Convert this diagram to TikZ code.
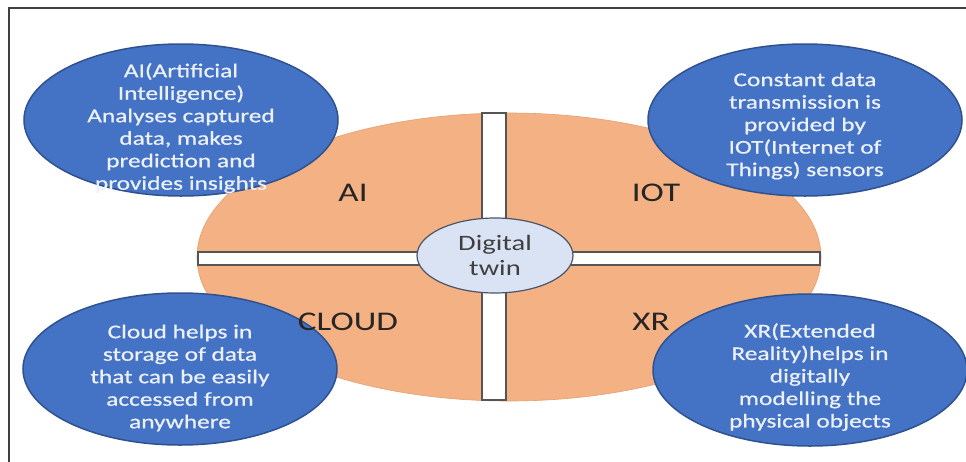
\documentclass[tikz,border=0pt]{standalone}
\usepackage{fontspec}
\setmainfont{Carlito}
\newfontfamily\widefont[FakeStretch=1.3]{Carlito}
\newfontfamily\bubblefont[FakeStretch=1.3,FakeBold=0.6]{Carlito}
\usetikzlibrary{shapes.geometric}

\definecolor{petal}{HTML}{F4B183}
\definecolor{petaledge}{HTML}{E3A06E}
\definecolor{bubble}{HTML}{4472C4}
\definecolor{bubbleedge}{HTML}{2F528F}
\definecolor{hub}{HTML}{DAE3F3}
\definecolor{hubedge}{HTML}{4A5568}
\definecolor{ink}{HTML}{404040}
\definecolor{baredge}{HTML}{555555}

\tikzset{
  frame/.style={draw=ink, line width=1.6pt},
  core/.style={ellipse, fill=petal, draw=petaledge, line width=0.6pt,
    minimum width=624, minimum height=288, inner sep=0pt},
  barbox/.style={rectangle, fill=white, draw=baredge, line width=1.3pt, inner sep=0pt},
  bubblebox/.style={ellipse, fill=bubble, draw=bubbleedge, line width=1.5pt,
    minimum width=314, minimum height=152, inner sep=0pt},
  bubbletext/.style={inner sep=0pt, text=white!90!bubble, align=center,
    font=\bubblefont\fontsize{19.5}{22.5}\selectfont},
  hubbox/.style={ellipse, fill=hub, draw=hubedge, line width=1.2pt,
    minimum width=156, minimum height=75, inner sep=0pt,
    text=ink, align=center, font=\widefont\fontsize{22}{25}\selectfont},
  quadlabel/.style={text=black!85, font=\widefont\fontsize{27}{30}\selectfont, inner sep=0pt}
}

\begin{document}
\begin{tikzpicture}[x=1pt,y=-1pt]
  \useasboundingbox (0,0) rectangle (966,461);
  \clip (0,0) rectangle (966,461);
  \fill[white] (0,0) rectangle (966,461);

  % outer frame
  \draw[frame] (9,8) rectangle (980,480);

  % central disc split into four quadrants
  \node[core] (core) at (509,257) {};
  \node[barbox, minimum width=622, minimum height=13] (hbar) at (509,258.5) {};
  \node[barbox, minimum width=24, minimum height=287] (vbar) at (494,256.5) {};

  % hub
  \node[hubbox] (hub) at (495,255.5) {Digital\\twin};

  % description bubbles
  \node[bubblebox] (aiinfo)    at (181,120) {};
  \node[bubblebox] (iotinfo)   at (805,120) {};
  \node[bubblebox] (cloudinfo) at (180,369) {};
  \node[bubblebox] (xrinfo)    at (810,370) {};

  \node[bubbletext] (aitext) at ([yshift=-8pt]aiinfo.center)
    {AI(Artificial\\Intelligence)\\Analyses captured\\data, makes\\prediction and\\provides insights};
  \node[bubbletext] (iottext) at ([yshift=-6pt]iotinfo.center)
    {Constant data\\transmission is\\provided by\\IOT(Internet of\\Things) sensors};
  \node[bubbletext] (cloudtext) at ([yshift=-9pt]cloudinfo.center)
    {Cloud helps in\\storage of data\\that can be easily\\accessed from\\anywhere};
  \node[bubbletext] (xrtext) at ([yshift=-7pt]xrinfo.center)
    {XR(Extended\\Reality)helps in\\digitally\\modelling the\\physical objects};

  % quadrant titles
  \node[quadlabel] (ai)    at (353,193) {AI};
  \node[quadlabel] (iot)   at (656,193) {IOT};
  \node[quadlabel] (cloud) at (348,322) {CLOUD};
  \node[quadlabel] (xr)    at (651,322) {XR};
\end{tikzpicture}
\end{document}
